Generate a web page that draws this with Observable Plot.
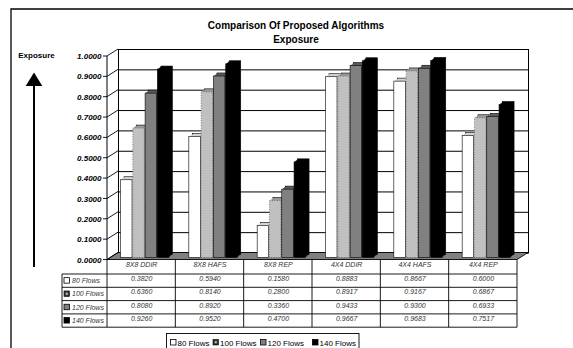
<!DOCTYPE html>
<html>
<head>
<meta charset="utf-8">
<script src="https://cdn.jsdelivr.net/npm/d3@7"></script>
<script src="https://cdn.jsdelivr.net/npm/@observablehq/plot@0.6"></script>
<style>
  body { margin: 0; background: #fff; }
  #chart { width: 573px; height: 348px; overflow: hidden; }
  #chart svg { display: block; }
</style>
</head>
<body>
<div id="chart"></div>
<script>
// Exposure of the proposed routing algorithms, per mesh size and traffic load
const categories = ["8X8 DDIR", "8X8 HAFS", "8X8 REP", "4X4 DDIR", "4X4 HAFS", "4X4 REP"];
const series = ["80 Flows", "100 Flows", "120 Flows", "140 Flows"];
const flows80  = [0.3820, 0.5940, 0.1580, 0.8883, 0.8667, 0.6000];
const flows100 = [0.6360, 0.8140, 0.2800, 0.8917, 0.9167, 0.6867];
const flows120 = [0.8080, 0.8920, 0.3360, 0.9433, 0.9300, 0.6933];
const flows140 = [0.9260, 0.9520, 0.4700, 0.9667, 0.9683, 0.7517];
const yTicks = [0, 0.1, 0.2, 0.3, 0.4, 0.5, 0.6, 0.7, 0.8, 0.9, 1.0];
const titleLines = ["Comparison Of Proposed Algorithms", "Exposure"];
const axisTitle = "Exposure";

const seriesValues = [flows80, flows100, flows120, flows140];
const faceColors = ["#ffffff", "#c0c0c0", "#808080", "#000000"];
const sideColors = ["#d4d4d4", "#9a9a9a", "#5c5c5c", "#000000"];

const W = 573, H = 348;
const M = {top: 56, right: 56, bottom: 88.5, left: 107};
const wall = {dx: 11, dy: -7};                // offset of the back wall
const colStep = (W - M.left - M.right) / categories.length;
const bar = {lead: 10.5, pitch: 12.3, width: 11.5, dx: 3, dy: -2, depthX: 3.5, depthY: -3};
const headH = 14.5, rowH = 13.3;
const font = "'Liberation Sans', Arial, sans-serif";
const fmt = d3.format(".4f");

const rows = series.map((s, j) =>
  categories.map((c, i) => ({category: c, series: s, value: seriesValues[j][i]}))
);

function swatch(g, j, x, y, s) {
  if (j === 1) {
    g.append("rect").attr("x", x).attr("y", y).attr("width", s).attr("height", s)
      .attr("fill", "#333").attr("stroke", "black").attr("stroke-width", 0.6);
    g.append("rect").attr("x", x + s / 2 - 1).attr("y", y + s / 2 - 1).attr("width", 2).attr("height", 2)
      .attr("fill", "#c8c8c8");
  } else {
    g.append("rect").attr("x", x).attr("y", y).attr("width", s).attr("height", s)
      .attr("fill", faceColors[j]).attr("stroke", "black").attr("stroke-width", 0.8);
  }
}

// titles, outer border and the axis arrow
function chrome() {
  const g = d3.create("svg:g").attr("font-family", font);
  g.append("path").attr("d", `M11,${H}V9H${W}`)
    .attr("fill", "none").attr("stroke", "black").attr("stroke-width", 1.3);
  titleLines.forEach((t, i) => {
    g.append("text").attr("x", 296).attr("y", 29 + i * 14)
      .attr("text-anchor", "middle").attr("font-size", 10).attr("font-weight", "bold")
      .attr("fill", "black").text(t);
  });
  g.append("text").attr("x", 36.5).attr("y", 58).attr("text-anchor", "middle")
    .attr("font-size", 8).attr("font-weight", "bold").attr("fill", "black").text(axisTitle);
  g.append("line").attr("x1", 34).attr("x2", 34).attr("y1", 84).attr("y2", 267)
    .attr("stroke", "black").attr("stroke-width", 2);
  g.append("path").attr("d", "M34,72.5L42.3,86L25.7,86Z").attr("fill", "black");
  return g.node();
}

// floor and left side wall
function walls(index, scales, values, dim) {
  const y = scales.y;
  const g = d3.create("svg:g");
  const x0 = dim.marginLeft, x1 = dim.width - dim.marginRight;
  const y0 = y(0);
  g.append("path")
    .attr("d", `M${x0},${y0}L${x1},${y0}L${x1 + wall.dx},${y0 + wall.dy}L${x0 + wall.dx},${y0 + wall.dy}Z`)
    .attr("fill", "#808080").attr("stroke", "black").attr("stroke-width", 0.9);
  g.append("line").attr("x1", x0).attr("x2", x0).attr("y1", y0).attr("y2", y(1))
    .attr("stroke", "black").attr("stroke-width", 1);
  for (const t of yTicks) {
    g.append("line").attr("x1", x0).attr("y1", y(t)).attr("x2", x0 + wall.dx).attr("y2", y(t) + wall.dy)
      .attr("stroke", "black").attr("stroke-width", 0.9);
    g.append("line").attr("x1", x0 - 4).attr("y1", y(t)).attr("x2", x0).attr("y2", y(t))
      .attr("stroke", "black").attr("stroke-width", 0.9);
  }
  return g.node();
}

// data table grid, row labels and the legend
function table(index, scales, values, dim) {
  const x = scales.x;
  const g = d3.create("svg:g").attr("font-family", font).attr("text-anchor", "start");
  const top = dim.height - dim.marginBottom;
  const labelLeft = 62;
  const right = dim.width - dim.marginRight;
  const rowTop = top + headH;
  const bottom = rowTop + rowH * series.length;
  const line = (x1, y1, x2, y2) => g.append("line")
    .attr("x1", x1).attr("y1", y1).attr("x2", x2).attr("y2", y2)
    .attr("stroke", "black").attr("stroke-width", 0.9);
  categories.forEach(c => line(x(c), top, x(c), bottom));
  line(right, top, right, bottom);
  line(labelLeft, rowTop, labelLeft, bottom);
  for (let j = 0; j <= series.length; ++j) line(labelLeft, rowTop + j * rowH, right, rowTop + j * rowH);
  series.forEach((s, j) => {
    const cy = rowTop + j * rowH + rowH / 2;
    swatch(g, j, 64, cy - 3, 5.5);
    g.append("text").attr("x", 72).attr("y", cy).attr("dy", "0.35em").attr("text-anchor", "start")
      .attr("font-size", 7).attr("font-style", "italic").attr("fill", "#333").text(s);
  });

  // legend
  const lg = g.append("g");
  lg.append("rect").attr("x", 166.5).attr("y", 333.5).attr("width", 192.5).attr("height", 20)
    .attr("fill", "white").attr("stroke", "black").attr("stroke-width", 0.9);
  const slots = [170.5, 213, 260.5, 312.5];
  series.forEach((s, j) => {
    swatch(lg, j, slots[j], 339.5, 5.5);
    lg.append("text").attr("x", slots[j] + 7).attr("y", 346).attr("text-anchor", "start")
      .attr("font-size", 8).attr("fill", "black").text(s);
  });
  return g.node();
}

const marks = [
  () => chrome(),
  Plot.frame({fill: "white", stroke: "black", strokeWidth: 1, dx: wall.dx, dy: wall.dy}),
  Plot.ruleY(yTicks, {y: d => d, stroke: "black", strokeWidth: 1, dx: wall.dx, dy: wall.dy}),
  walls,
  Plot.text(yTicks, {
    y: d => d, text: d => fmt(d), frameAnchor: "left", textAnchor: "end", dx: -6,
    fontSize: 8, fontWeight: "bold", fontStyle: "italic", fill: "black", fontFamily: font
  })
];

// column depth: stacked copies pushed back toward the wall
for (const k of [3, 2, 1]) {
  rows.forEach((data, j) => {
    marks.push(Plot.barY(data, {
      x: "category", y: "value",
      insetLeft: bar.lead + bar.pitch * j,
      insetRight: colStep - bar.lead - bar.pitch * j - bar.width,
      fill: sideColors[j],
      stroke: k === 3 ? "black" : "none", strokeWidth: 0.6,
      dx: bar.dx + bar.depthX * k / 3, dy: bar.dy + bar.depthY * k / 3
    }));
  });
}
// column front faces
rows.forEach((data, j) => {
  marks.push(Plot.barY(data, {
    x: "category", y: "value",
    insetLeft: bar.lead + bar.pitch * j,
    insetRight: colStep - bar.lead - bar.pitch * j - bar.width,
    fill: faceColors[j], stroke: j === 1 ? "#444" : "black", strokeWidth: 0.6,
    strokeDasharray: j === 1 ? "1,1.5" : null,
    dx: bar.dx, dy: bar.dy
  }));
});

// table header and values
marks.push(table);
marks.push(Plot.text(categories, {
  x: d => d, text: d => d, frameAnchor: "bottom", dy: headH / 2,
  fontSize: 7, fontStyle: "italic", fill: "#333", fontFamily: font
}));
rows.forEach((data, j) => {
  marks.push(Plot.text(data, {
    x: "category", text: d => fmt(d.value), frameAnchor: "bottom",
    dy: headH + rowH * j + rowH / 2,
    fontSize: 7, fontStyle: "italic", fill: "#333", fontFamily: font
  }));
});

const chart = Plot.plot({
  width: W, height: H,
  marginTop: M.top, marginRight: M.right, marginBottom: M.bottom, marginLeft: M.left,
  style: {background: "white", fontFamily: font, overflow: "visible"},
  x: {type: "band", domain: categories, padding: 0, round: false, axis: null},
  y: {domain: [0, 1], axis: null},
  marks
});
document.getElementById("chart").append(chart);
</script>
</body>
</html>
